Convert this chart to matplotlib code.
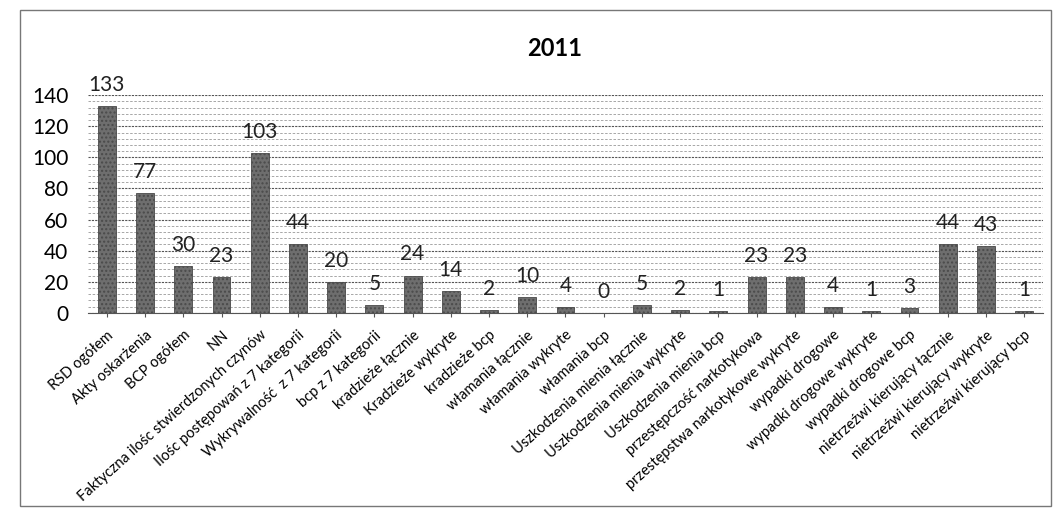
import matplotlib.pyplot as plt
import numpy as np
from matplotlib.patches import Rectangle

categories = [
    "RSD ogółem", "Akty oskarżenia", "BCP ogółem", "NN",
    "Faktyczna ilośc stwierdzonych czynów", "Ilośc postępowań z 7 kategorii",
    "Wykrywalność  z 7 kategorii", "bcp z 7 kategorii", "kradzieże łącznie",
    "Kradzieże wykryte", "kradzieże bcp", "włamania łącznie", "włamania wykryte",
    "włamania bcp", "Uszkodzenia mienia łącznie", "Uszkodzenia mienia wykryte",
    "Uszkodzenia mienia bcp", "przestępczość narkotykowa",
    "przestępstwa narkotykowe wykryte", "wypadki drogowe",
    "wypadki drogowe wykryte", "wypadki drogowe bcp",
    "nietrzeźwi kierujący łącznie", "nietrzeźwi kierujący wykryte",
    "nietrzeźwi kierujący bcp",
]
values = [133, 77, 30, 23, 103, 44, 20, 5, 24, 14, 2, 10, 4, 0, 5, 2, 1,
          23, 23, 4, 1, 3, 44, 43, 1]
title = "2011"

plt.rcParams['font.family'] = ['Lato', 'DejaVu Sans']

fig = plt.figure(figsize=(10.57, 5.12), dpi=100)
fig.patches.append(Rectangle((0.019, 0.012), 0.975, 0.968, transform=fig.transFigure,
                             fill=False, edgecolor="#777777", linewidth=1.0))

ax = fig.add_axes([0.083, 0.389, 0.904, 0.425])
x = np.arange(len(categories))
ax.bar(x, values, width=0.47, color="#6e6e6e", edgecolor="#4a4a4a",
       linewidth=0.6, hatch="....", zorder=3)

# etykiety wartości nad słupkami
for xi, v in zip(x, values):
    ax.annotate(str(v), (xi, v), xytext=(0, 8), textcoords="offset points",
                ha="center", va="bottom", fontsize=15, color="#222222",
                annotation_clip=False)

ax.set_xlim(-0.5, len(categories) - 0.5)
ax.set_ylim(0, 140)
ax.set_yticks(range(0, 141, 20))
ax.set_yticks(range(0, 141, 4), minor=True)
ax.tick_params(axis="y", which="both", length=0, labelsize=15, pad=14)
ax.grid(axis="y", which="major", color="#555555", linewidth=0.8, linestyle=(0, (2, 1)))
ax.grid(axis="y", which="minor", color="#999999", linewidth=0.6, linestyle=(0, (3, 2)))
ax.set_axisbelow(True)

ax.set_xticks(x)
ax.set_xticklabels(categories, rotation=42, ha="right", rotation_mode="anchor",
                   fontsize=10.5)
ax.tick_params(axis="x", length=3, color="#555555", pad=8)

for s in ["top", "right", "left"]:
    ax.spines[s].set_visible(False)
ax.spines["bottom"].set_color("#555555")

fig.text(0.525, 0.905, title, ha="center", va="center", fontsize=17,
         fontweight="bold")

fig.savefig("out.png", dpi=100)
